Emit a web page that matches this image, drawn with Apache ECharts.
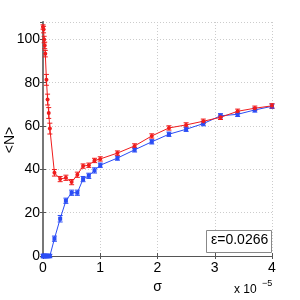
<!DOCTYPE html>
<html><head><meta charset="utf-8">
<script src="https://cdn.jsdelivr.net/npm/echarts@6/dist/echarts.min.js"></script>
<style>html,body{margin:0;padding:0;background:#fff}#c{width:300px;height:300px}</style>
</head><body><div id="c"></div>
<script>
// sigma in units of 1e-5
var sigma = [0, 0.01, 0.02, 0.03, 0.04, 0.06, 0.08, 0.1, 0.12, 0.2, 0.3, 0.4, 0.5, 0.6, 0.7, 0.8, 0.9, 1.0, 1.3, 1.6, 1.9, 2.2, 2.5, 2.8, 3.1, 3.4, 3.7, 4.0];
var redN = [105.7, 104.5, 99.9, 97.2, 93.4, 81.3, 72.2, 66, 58.8, 38.4, 35.5, 36.1, 34.1, 37.5, 41.5, 41.9, 44.1, 44.8, 47.5, 50.8, 55.4, 59.1, 60.5, 62.2, 64.0, 66.8, 68.2, 69.3];
var redErr = [1, 1.5, 1.5, 1.5, 1.5, 2.5, 2.5, 2.5, 2.5, 1.5, 1.2, 1.2, 1.2, 1.2, 1, 1, 1, 1, 1, 1, 1, 1, 1, 1, 1, 1, 1, 1];
var blueN = [0, 0, 0, 0, 0, 0, 0, 0, 0, 8.0, 17.2, 25.5, 29.2, 29.2, 35.5, 37.0, 39.5, 41.9, 45.2, 49.0, 52.7, 56.2, 58.5, 61.1, 64.7, 65.4, 67.4, 69.1];
var blueErr = [0.8, 0.8, 0.8, 0.8, 0.8, 0.8, 0.8, 0.8, 0.8, 1.2, 1.5, 1.2, 1.2, 1.2, 1.2, 1.2, 1.2, 1, 1, 1, 1, 1, 1, 1, 1, 1, 1, 1];
var xTicks = [0, 1, 2, 3, 4];
var yTicks = [0, 20, 40, 60, 80, 100];
var epsLabel = 'ε=0.0266';
var yName = '<N>';

function pairs(ys){ return sigma.map(function(s,i){return [s, ys[i]];}); }
function errData(ys, es){ return sigma.map(function(s,i){return [s, ys[i]-es[i], ys[i]+es[i]];}); }
function errSeries(ys, es, color){
  return {
    type: 'custom', data: errData(ys, es), z: 3, silent: true,
    renderItem: function(params, api){
      var x = api.value(0);
      var lo = api.coord([x, api.value(1)]);
      var hi = api.coord([x, api.value(2)]);
      var w = 2.5;
      var st = {stroke: color, lineWidth: 1, fill: null};
      return {type: 'group', children: [
        {type: 'line', shape: {x1: lo[0], y1: lo[1], x2: hi[0], y2: hi[1]}, style: st},
        {type: 'line', shape: {x1: lo[0]-w, y1: lo[1], x2: lo[0]+w, y2: lo[1]}, style: st},
        {type: 'line', shape: {x1: hi[0]-w, y1: hi[1], x2: hi[0]+w, y2: hi[1]}, style: st}
      ]};
    }
  };
}
var font = 'Liberation Sans, Arial, Helvetica, sans-serif';
var chart = echarts.init(document.getElementById('c'));
chart.setOption({
  animation: false,
  backgroundColor: '#fff',
  grid: {left: 43, right: 28, top: 22, bottom: 44, outerBoundsMode: 'none', containLabel: false},
  xAxis: [{
    type: 'value', min: 0, max: 4, interval: 1,
    name: 'σ', nameLocation: 'middle', nameGap: 18,
    nameTextStyle: {color: '#000', fontSize: 14, fontFamily: font},
    axisLine: {show: true, onZero: false, lineStyle: {color: '#555', width: 1}},
    axisTick: {show: true, inside: true, length: 3, lineStyle: {color: '#555'}},
    axisLabel: {color: '#000', fontSize: 14, fontFamily: font, margin: 5,
      formatter: function(v){ return xTicks.indexOf(v) >= 0 ? String(v) : ''; }},
    splitLine: {show: true, lineStyle: {color: '#ccc', type: [1, 2], width: 1}}
  }, {
    type: 'value', min: 0, max: 4, interval: 1, position: 'top',
    axisLine: {show: true, lineStyle: {color: '#555', width: 1}},
    axisTick: {show: true, inside: true, length: 3, lineStyle: {color: '#555'}},
    axisLabel: {show: false}, splitLine: {show: false}
  }],
  yAxis: [{
    type: 'value', min: 0, max: 108, interval: 20,
    axisLine: {show: true, lineStyle: {color: '#555', width: 1}},
    axisTick: {show: true, inside: true, length: 3, lineStyle: {color: '#555'}},
    axisLabel: {color: '#000', fontSize: 14, fontFamily: font, margin: 3, showMaxLabel: false,
      formatter: function(v){ return yTicks.indexOf(v) >= 0 ? String(v) : ''; }},
    splitLine: {show: true, lineStyle: {color: '#ccc', type: [1, 2], width: 1}}
  }, {
    type: 'value', min: 0, max: 108, interval: 20, position: 'right',
    axisLine: {show: true, lineStyle: {color: '#777', width: 2}},
    axisTick: {show: true, inside: true, length: 3, lineStyle: {color: '#555'}},
    axisLabel: {show: false}, splitLine: {show: false}
  }],
  series: [
    errSeries(blueN, blueErr, '#2a4cf5'),
    {type: 'line', data: pairs(blueN), z: 4, symbol: 'rect', symbolSize: 4,
     lineStyle: {color: '#2a4cf5', width: 1}, itemStyle: {color: '#2a4cf5'}},
    errSeries(redN, redErr, '#f01c1c'),
    {type: 'line', data: pairs(redN), z: 5, symbol: 'circle', symbolSize: 4,
     lineStyle: {color: '#f01c1c', width: 1}, itemStyle: {color: '#f01c1c'}}
  ],
  graphic: [
    {type: 'text', x: 10, y: 140, rotation: Math.PI / 2, z: 11,
     style: {text: yName, fill: '#000', font: '14px ' + font, align: 'center', verticalAlign: 'middle'}},
    {type: 'rect', left: 206, top: 230, shape: {width: 65, height: 22},
     style: {fill: '#fff', stroke: '#888', lineWidth: 1}, z: 10},
    {type: 'text', left: 211, top: 233, z: 11,
     style: {text: epsLabel, fill: '#000', font: '14px ' + font}},
    {type: 'text', left: 234, top: 284, z: 11,
     style: {text: 'x 10', fill: '#000', font: '12px ' + font}},
    {type: 'text', left: 262, top: 279, z: 11,
     style: {text: '−5', fill: '#000', font: '9px ' + font}}
  ]
});
</script></body></html>
